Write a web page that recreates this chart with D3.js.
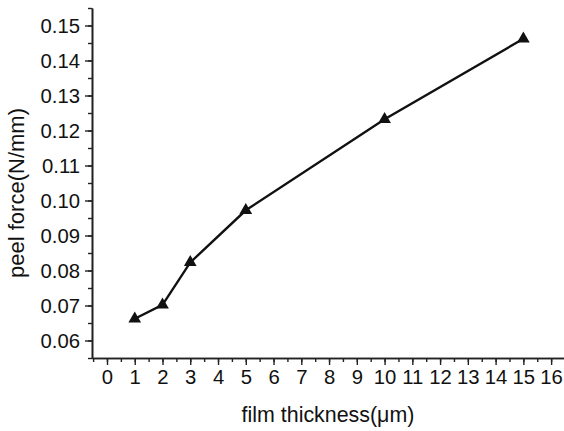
<!DOCTYPE html>
<html><head><meta charset="utf-8">
<script src="https://cdn.jsdelivr.net/npm/d3@7/dist/d3.min.js"></script>
<style>body{margin:0;background:#fff}svg{display:block}text{font-family:"Liberation Sans",Arial,sans-serif;fill:#111}</style>
</head><body>
<script>
const thickness = [1, 2, 3, 5, 10, 15];
const peelForce = [0.0662, 0.0702, 0.0823, 0.0972, 0.1232, 0.1462];
const xTicks = [0,1,2,3,4,5,6,7,8,9,10,11,12,13,14,15,16];
const yTicks = [0.06,0.07,0.08,0.09,0.10,0.11,0.12,0.13,0.14,0.15];
const xMinor = d3.range(-0.5, 16.01, 0.5);
const yMinor = d3.range(0.055, 0.1551, 0.005);

const W = 564, H = 431;
const svg = d3.select("body").append("svg").attr("width", W).attr("height", H);
const x = d3.scaleLinear().domain([-0.54, 16.5]).range([92, 565]);
const y = d3.scaleLinear().domain([0.055, 0.155]).range([358, 8]);

const gx = svg.append("g").attr("transform", "translate(0,358)");
gx.call(d3.axisBottom(x).tickValues(xMinor).tickSize(4).tickFormat("").tickSizeOuter(0));
gx.append("g").call(d3.axisBottom(x).tickValues(xTicks).tickSize(7).tickPadding(5).tickFormat(d3.format("d")).tickSizeOuter(0));
const gy = svg.append("g").attr("transform", "translate(92,0)");
gy.call(d3.axisLeft(y).tickValues(yMinor).tickSize(4).tickFormat("").tickSizeOuter(0));
gy.append("g").call(d3.axisLeft(y).tickValues(yTicks).tickSize(7).tickPadding(5).tickFormat(d3.format(".2f")).tickSizeOuter(0));
svg.selectAll(".domain").attr("stroke", "#222").attr("stroke-width", 1.6);
svg.selectAll(".tick line").attr("stroke", "#222").attr("stroke-width", 1.4);
svg.selectAll(".tick text").attr("font-size", 20.3).attr("font-family", "Liberation Sans, Arial, sans-serif").attr("fill", "#111");

const line = d3.line().x((d,i)=>x(thickness[i])).y(d=>y(d));
svg.append("path").datum(peelForce).attr("d", line).attr("fill","none").attr("stroke","#111").attr("stroke-width",2.4);
svg.selectAll(".mk").data(peelForce).enter().append("path")
  .attr("d", d3.symbol().type(d3.symbolTriangle).size(70))
  .attr("transform", (d,i)=>`translate(${x(thickness[i])},${y(d)})`)
  .attr("fill","#111");

svg.append("text").attr("x", 328).attr("y", 422).attr("text-anchor","middle").attr("font-size",21.4).text("film thickness(μm)");
svg.append("text").attr("transform","translate(24,193) rotate(-90)").attr("text-anchor","middle").attr("font-size",22).text("peel force(N/mm)");
</script>
</body></html>
